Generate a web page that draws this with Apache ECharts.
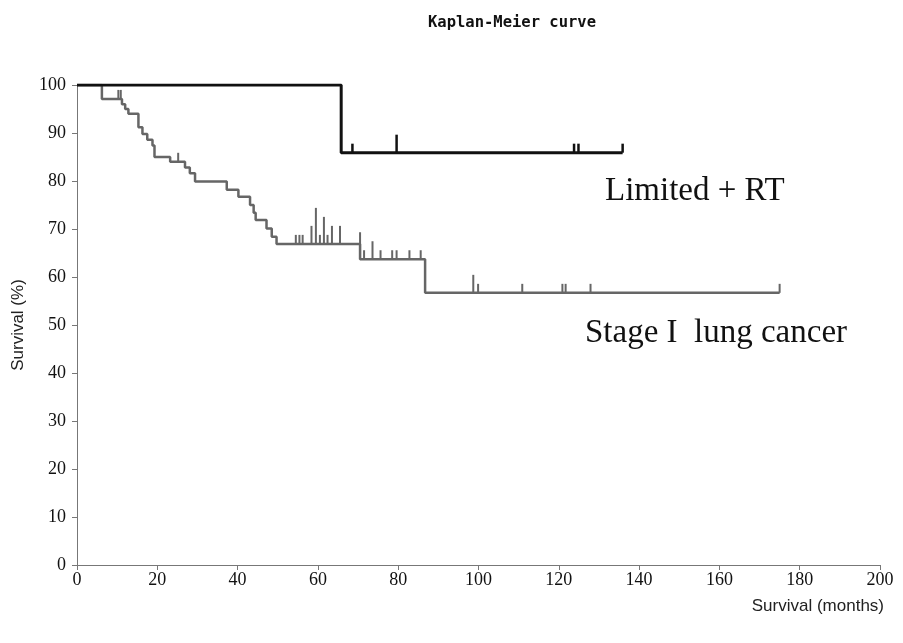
<!DOCTYPE html>
<html>
<head>
<meta charset="utf-8">
<script src="https://cdn.jsdelivr.net/npm/echarts@6/dist/echarts.min.js"></script>
<style>
  html, body { margin: 0; padding: 0; background: #fff; }
  #main { width: 903px; height: 643px; }
</style>
</head>
<body>
<div id="main"></div>
<script>
// Limited + RT (black curve)
var limitedTimes = [0, 65.8, 135.9];
var limitedSurv = [100, 85.9, 85.9];
var limitedCensorTimes = [68.6, 79.6, 123.8, 124.9, 135.9];
var limitedCensorCounts = [1, 2, 1, 1, 1];

// Stage I lung cancer (grey curve)
var stageTimes = [0, 6.2, 11.2, 12.0, 12.8, 15.3, 16.3, 17.5, 18.8, 19.3, 23.2, 26.9, 28.1, 29.4,
  37.3, 40.2, 43.1, 44.0, 44.5, 47.2, 48.5, 49.7, 70.5, 86.7, 175.0];
var stageSurv = [100, 97.1, 96.0, 95.0, 94.0, 91.2, 89.8, 88.6, 87.4, 85.0, 84.0, 82.8, 81.6, 79.9,
  78.2, 76.7, 75.0, 73.4, 71.9, 70.1, 68.4, 66.9, 63.7, 56.7, 56.7];
var stageCensorTimes = [10.3, 10.9, 25.2, 54.5, 55.4, 56.2, 58.4, 59.5, 60.5, 61.5, 62.4, 63.5, 65.5, 70.5,
  71.5, 73.6, 75.6, 78.5, 79.6, 82.8, 85.6, 98.7, 99.9, 110.9, 120.9, 121.7, 127.9, 175.0];
var stageCensorCounts = [1, 1, 1, 1, 1, 1, 2, 4, 1, 3, 1, 2, 2, 3,
  1, 2, 1, 1, 1, 1, 1, 2, 1, 1, 1, 1, 1, 1];

var xTicks = { min: 0, max: 200, interval: 20 };
var yTicks = { min: 0, max: 100, interval: 10 };

function zip(a, b) {
  var out = [];
  for (var i = 0; i < a.length; i++) out.push([a[i], b[i]]);
  return out;
}
// survival level of a step curve at time t (value just before a drop at t)
function survAt(times, surv, t) {
  var s = surv[0];
  for (var i = 0; i < times.length; i++) {
    if (times[i] < t) s = surv[i];
  }
  return s;
}
function censorData(times, surv, cTimes, counts) {
  return cTimes.map(function (t, i) {
    return [t, survAt(times, surv, t + 0.001), counts[i]];
  });
}
function censorSeries(data, color, width) {
  return {
    type: 'custom',
    data: data,
    silent: true,
    renderItem: function (params, api) {
      var p = api.coord([api.value(0), api.value(1)]);
      var h = api.value(2) * 9;
      return {
        type: 'line',
        shape: { x1: p[0], y1: p[1], x2: p[0], y2: p[1] - h },
        style: { stroke: color, lineWidth: width }
      };
    }
  };
}

var chart = echarts.init(document.getElementById('main'), null, { renderer: 'canvas' });
var serif = 'Liberation Serif, Times New Roman, serif';
var sans = 'Liberation Sans, Arial, sans-serif';
var option = {
  animation: false,
  backgroundColor: '#fff',
  title: {
    text: 'Kaplan-Meier curve',
    left: 423,
    top: 10,
    textStyle: { fontFamily: 'DejaVu Sans Mono', fontSize: 15.5, fontWeight: 'bold', color: '#111' }
  },
  grid: { left: 77, right: 23, top: 85, bottom: 78, outerBoundsMode: 'none', containLabel: false },
  xAxis: {
    type: 'value',
    min: xTicks.min, max: xTicks.max, interval: xTicks.interval,
    axisLine: { lineStyle: { color: '#777', width: 1 } },
    axisTick: { inside: false, length: 5, lineStyle: { color: '#777' } },
    splitLine: { show: false },
    axisLabel: { fontFamily: serif, fontSize: 18, color: '#111', margin: 6 }
  },
  yAxis: {
    type: 'value',
    min: yTicks.min, max: yTicks.max, interval: yTicks.interval,
    name: 'Survival (%)',
    nameLocation: 'middle',
    nameRotate: 90,
    nameGap: 50,
    nameTextStyle: { fontFamily: sans, fontSize: 17, color: '#222' },
    axisLine: { show: true, lineStyle: { color: '#777', width: 1 } },
    axisTick: { show: true, inside: false, length: 5, lineStyle: { color: '#777' } },
    splitLine: { show: false },
    axisLabel: { fontFamily: serif, fontSize: 18, color: '#111', margin: 11 }
  },
  graphic: [
    { type: 'text', x: 605, y: 191, style: { text: 'Limited + RT', font: '33px ' + serif, fill: '#111', textAlign: 'left', textVerticalAlign: 'middle' } },
    { type: 'text', x: 585, y: 333, style: { text: 'Stage I  lung cancer', font: '33px ' + serif, fill: '#111', textAlign: 'left', textVerticalAlign: 'middle' } },
    { type: 'text', x: 884, y: 606, style: { text: 'Survival (months)', font: '17px ' + sans, fill: '#222', textAlign: 'right', textVerticalAlign: 'middle' } }
  ],
  series: [
    {
      name: 'Stage I lung cancer',
      type: 'line',
      step: 'end',
      symbol: 'none',
      data: zip(stageTimes, stageSurv),
      lineStyle: { color: '#666', width: 2.5 }
    },
    censorSeries(censorData(stageTimes, stageSurv, stageCensorTimes, stageCensorCounts), '#666', 2),
    {
      name: 'Limited + RT',
      type: 'line',
      step: 'end',
      symbol: 'none',
      data: zip(limitedTimes, limitedSurv),
      lineStyle: { color: '#111', width: 3 }
    },
    censorSeries(censorData(limitedTimes, limitedSurv, limitedCensorTimes, limitedCensorCounts), '#111', 2.5)
  ]
};
chart.setOption(option);
window.onresize = chart.resize;
</script>
</body>
</html>
